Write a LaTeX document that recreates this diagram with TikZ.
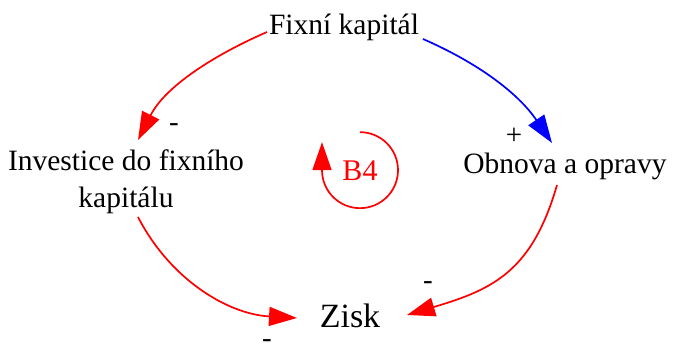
\documentclass[tikz,border=0pt]{standalone}
\usepackage{fontspec}
\setmainfont{Liberation Serif}
\usetikzlibrary{arrows.meta,calc}
\begin{document}
\begin{tikzpicture}[x=1pt,y=1pt,
  lbl/.style={inner sep=0pt, font=\fontsize{29.5}{37}\selectfont, align=center},
  sgn/.style={inner sep=0pt, font=\fontsize{29}{30}\selectfont},
  conn/.style={line width=1.7pt, -{Triangle[length=28pt,width=19pt]}},
]
\useasboundingbox (0,0) rectangle (675,349);
\node[lbl, anchor=base] (fk) at (344,314) {Fixní kapitál};
\node[lbl] (inv) at (126,167.5) {Investice do fixního\\kapitálu};
\node[lbl, anchor=base] (ob) at (565,176) {Obnova a opravy};
\node[lbl, anchor=base, font=\fontsize{34}{40}\selectfont] (zisk) at (350,22) {Zisk};
\node[lbl, anchor=base, text=red, font=\fontsize{30}{36}\selectfont] (b4) at (360,169) {B4};

\draw[conn, red] ($(fk.base)+(-77,3)$) .. controls +(-55,-24) and +(27,53) .. ($(inv.center)+(12,41.5)$);
\draw[conn, blue] ($(fk.base)+(79,-4)$) .. controls +(55,-24) and +(-34,50) .. ($(ob.base)+(-13,30)$);
\draw[conn, red] ($(inv.center)+(12,-35.5)$) .. controls +(32,-62) and +(-70,4) .. ($(zisk.base)+(-53,9)$);
\draw[conn, red] ($(ob.base)+(-8,-12)$) .. controls +(-25,-86.5) and +(86,25.6) .. ($(zisk.base)+(57,12)$);

\draw[conn, red] ($(b4.center)+(0,38)$) arc[start angle=90,end angle=-180,radius=38] -- ++(0,28);

\node[sgn] (s1) at (174,221) {-};
\node[sgn] (s2) at (514,213) {+};
\node[sgn] (s3) at (267,5) {-};
\node[sgn] (s4) at (428,63) {-};
\end{tikzpicture}
\end{document}
